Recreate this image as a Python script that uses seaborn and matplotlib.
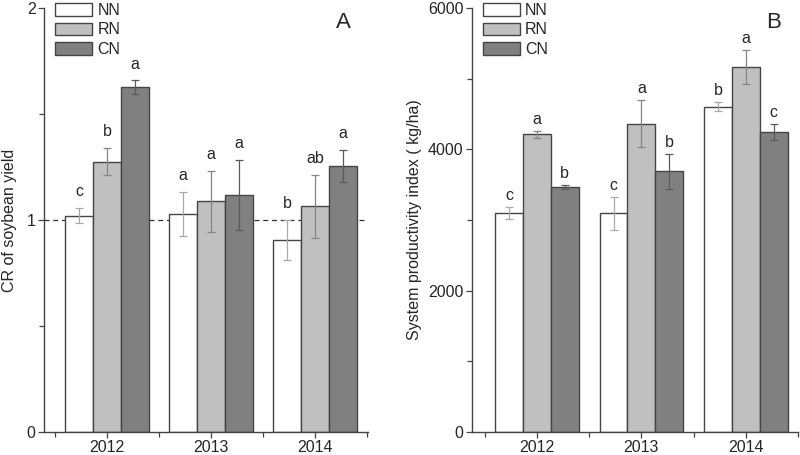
import numpy as np
import pandas as pd
import seaborn as sns
import matplotlib.pyplot as plt
from matplotlib.patches import Patch
from matplotlib.ticker import MultipleLocator, FixedLocator

sns.set_style("ticks")
plt.rcParams["font.family"] = ["Liberation Sans", "DejaVu Sans"]

years = ["2012", "2013", "2014"]
treatments = ["NN", "RN", "CN"]
colors = ["#ffffff", "#c0c0c0", "#808080"]
err_colors = ["#a8a8a8", "#858585", "#5a5a5a"]

# panel A: CR of soybean yield (rows = treatment, cols = year)
cr_mean = [[1.02, 1.027, 0.904],
           [1.275, 1.088, 1.064],
           [1.626, 1.119, 1.256]]
cr_err = [[0.035, 0.105, 0.095],
          [0.065, 0.145, 0.148],
          [0.033, 0.166, 0.075]]
cr_letters = [["c", "a", "b"],
              ["b", "a", "ab"],
              ["a", "a", "a"]]

# panel B: system productivity index (kg/ha)
spi_mean = [[3093, 3093, 4603],
            [4212, 4363, 5166],
            [3470, 3688, 4245]]
spi_err = [[85, 230, 63],
           [50, 333, 245],
           [30, 245, 110]]
spi_letters = [["c", "c", "b"],
               ["a", "a", "a"],
               ["b", "b", "c"]]


def long_df(means):
    rows = []
    for t, vals in zip(treatments, means):
        for y, v in zip(years, vals):
            rows.append({"year": y, "treatment": t, "value": v})
    return pd.DataFrame(rows)


def draw(ax, means, errs, letters, ylim, major, minor, ylabel, tag, letter_off, xlim):
    df = long_df(means)
    sns.barplot(data=df, x="year", y="value", hue="treatment", order=years,
                hue_order=treatments, palette=colors, errorbar=None, width=0.8,
                edgecolor="#454545", linewidth=1.0, saturation=1, ax=ax,
                legend=False, zorder=2)
    bar_conts = list(ax.containers)
    for i, cont in enumerate(bar_conts):
        for j, bar in enumerate(cont):
            x = bar.get_x() + bar.get_width() / 2
            h = bar.get_height()
            ax.errorbar(x, h, yerr=errs[i][j], color=err_colors[i], lw=0.9,
                        capsize=2.8, capthick=0.9, zorder=3)
            ax.annotate(letters[i][j], (x, h + errs[i][j]), xytext=(0, letter_off),
                        textcoords="offset points", ha="center", va="baseline",
                        fontsize=11.5)
    ax.set_ylim(*ylim)
    ax.set_xlim(*xlim)
    ax.yaxis.set_major_locator(MultipleLocator(major))
    ax.yaxis.set_minor_locator(MultipleLocator(minor))
    ax.xaxis.set_minor_locator(FixedLocator([-0.5, 0.5, 1.5, 2.5]))
    ax.tick_params(axis="both", which="major", length=4, width=0.9, color="#444444",
                   labelsize=11.5, pad=2)
    ax.tick_params(axis="both", which="minor", length=3.5, width=0.9, color="#444444")
    ax.set_xlabel("")
    ax.set_ylabel(ylabel, fontsize=11.5)
    for s in ["top", "right"]:
        ax.spines[s].set_visible(False)
    for s in ["left", "bottom"]:
        ax.spines[s].set_color("#444444")
        ax.spines[s].set_linewidth(1.0)
    handles = [Patch(facecolor=c, edgecolor="#454545", lw=1.0) for c in colors]
    ax.legend(handles, treatments, loc="upper left", bbox_to_anchor=(0.034, 1.012),
              frameon=False, fontsize=11.5, handlelength=2.3, handleheight=0.85,
              labelspacing=0.28, handletextpad=0.35, borderpad=0, borderaxespad=0)
    ax.text(0.925, 0.965, tag, transform=ax.transAxes, fontsize=16, ha="center",
            va="center")


fig = plt.figure(figsize=(8, 4.55), dpi=100)
ax1 = fig.add_axes([0.055, 0.0512, 0.405, 0.931])
ax2 = fig.add_axes([0.5896, 0.0512, 0.408, 0.931])

ax1.axhline(1, ls=(0, (4, 3)), color="#333333", lw=0.9, zorder=1)
draw(ax1, cr_mean, cr_err, cr_letters, (0, 2), 1, 0.5, "CR of soybean yield", "A",
     8.5, (-0.606, 2.51))
draw(ax2, spi_mean, spi_err, spi_letters, (0, 6000), 2000, 1000,
     "System productivity index ( kg/ha)", "B", 5, (-0.625, 2.5))
ax1.yaxis.labelpad = 7
ax2.yaxis.labelpad = 4

fig.savefig("out.png", dpi=100)
